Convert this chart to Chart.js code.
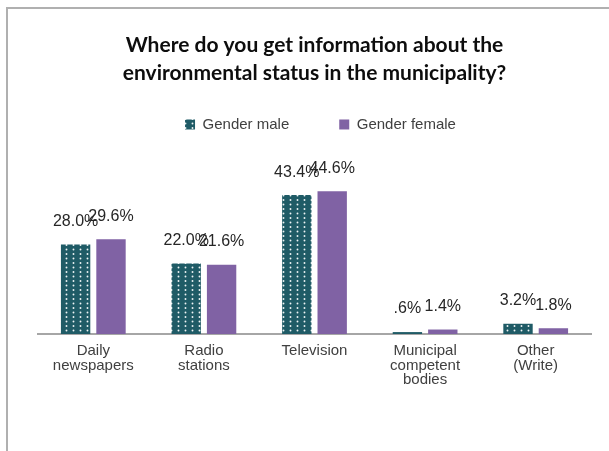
<!DOCTYPE html>
<html>
<head>
<meta charset="utf-8">
<script src="https://cdn.jsdelivr.net/npm/chart.js@4.4.0/dist/chart.umd.min.js"></script>
<style>
  html, body { margin: 0; padding: 0; background: #fff; }
  #marco { position: relative; width: 609px; height: 451px; overflow: hidden; }
  #borde { position: absolute; left: 6px; top: 7px; width: 700px; height: 600px;
           border-left: 2px solid #b0b0b0; border-top: 2px solid #b0b0b0; }
  #grafico { position: absolute; left: 0; top: 0; }
</style>
</head>
<body>
<div id="marco">
  <div id="borde"></div>
  <canvas id="grafico" width="609" height="451"></canvas>
</div>
<script>
// Datos de la encuesta
const categorias = [
    ['Daily', 'newspapers'],
    ['Radio', 'stations'],
    'Television',
    ['Municipal', 'competent', 'bodies'],
    ['Other', '(Write)']
];
const hombres = [28.0, 22.0, 43.4, 0.6, 3.2];
const mujeres = [29.6, 21.6, 44.6, 1.4, 1.8];

const colorVerde = '#1f5b66';
const colorMorado = '#8062a4';

// Relleno punteado para la serie masculina
function crearPatron() {
    const c = document.createElement('canvas');
    c.width = 7;
    c.height = 9;
    const x = c.getContext('2d');
    x.fillStyle = colorVerde;
    x.fillRect(0, 0, 7, 9);
    x.fillStyle = '#eef4f5';
    x.beginPath();
    x.arc(3.5, 2, 0.95, 0, Math.PI * 2);
    x.arc(3.5, 6.5, 0.95, 0, Math.PI * 2);
    x.fill();
    return x.createPattern(c, 'repeat');
}

// Formato de porcentaje: 0.6 -> ".6%"
function formato(v) {
    return v.toFixed(1).replace(/^0\./, '.') + '%';
}

// Etiquetas encima de cada barra
const etiquetas = {
    id: 'etiquetas',
    afterDatasetsDraw(chart) {
        const ctx = chart.ctx;
        ctx.save();
        ctx.font = '16px "Liberation Sans", Arial, sans-serif';
        ctx.fillStyle = '#262626';
        ctx.textAlign = 'center';
        ctx.textBaseline = 'middle';
        chart.data.datasets.forEach((ds, i) => {
            chart.getDatasetMeta(i).data.forEach((bar, j) => {
                ctx.fillText(formato(ds.data[j]), bar.x, bar.y - 23);
            });
        });
        ctx.restore();
    }
};

// Desplaza un poco la leyenda a la derecha
const moverLeyenda = {
    id: 'moverLeyenda',
    afterLayout(chart) {
        if (chart.legend) {
            chart.legend.left += 6;
            chart.legend.right += 6;
        }
    }
};

const ctx = document.getElementById('grafico').getContext('2d');

new Chart(ctx, {
    type: 'bar',
    data: {
        labels: categorias,
        datasets: [
            {
                label: 'Gender male',
                data: hombres,
                backgroundColor: crearPatron(),
                categoryPercentage: 0.64,
                barPercentage: 0.83
            },
            {
                label: 'Gender female',
                data: mujeres,
                backgroundColor: colorMorado,
                categoryPercentage: 0.64,
                barPercentage: 0.83
            }
        ]
    },
    options: {
        responsive: false,
        animation: false,
        layout: {
            padding: { left: 38, right: 18, top: 0, bottom: 0 }
        },
        scales: {
            x: {
                grid: { display: false },
                border: { color: '#a6a6a6', width: 2 },
                ticks: {
                    color: '#404040',
                    padding: 2,
                    maxRotation: 0,
                    autoSkip: false,
                    font: { family: '"Liberation Sans", Arial, sans-serif', size: 15, lineHeight: 0.95 }
                },
                afterFit: (scale) => { scale.height = 117; }
            },
            y: {
                display: false,
                min: 0,
                max: 60
            }
        },
        plugins: {
            title: {
                display: true,
                text: ['Where do you get information about the', 'environmental status in the municipality?'],
                color: '#0d0d0d',
                font: { family: 'Lato, sans-serif', size: 21, weight: 'bold', lineHeight: 1.333 },
                padding: { top: 31, bottom: -20 }
            },
            legend: {
                display: true,
                labels: {
                    color: '#404040',
                    boxWidth: 10,
                    boxHeight: 10,
                    padding: 50,
                    font: { family: '"Liberation Sans", Arial, sans-serif', size: 15 }
                }
            },
            tooltip: { enabled: false }
        }
    },
    plugins: [etiquetas, moverLeyenda]
});
</script>
</body>
</html>
